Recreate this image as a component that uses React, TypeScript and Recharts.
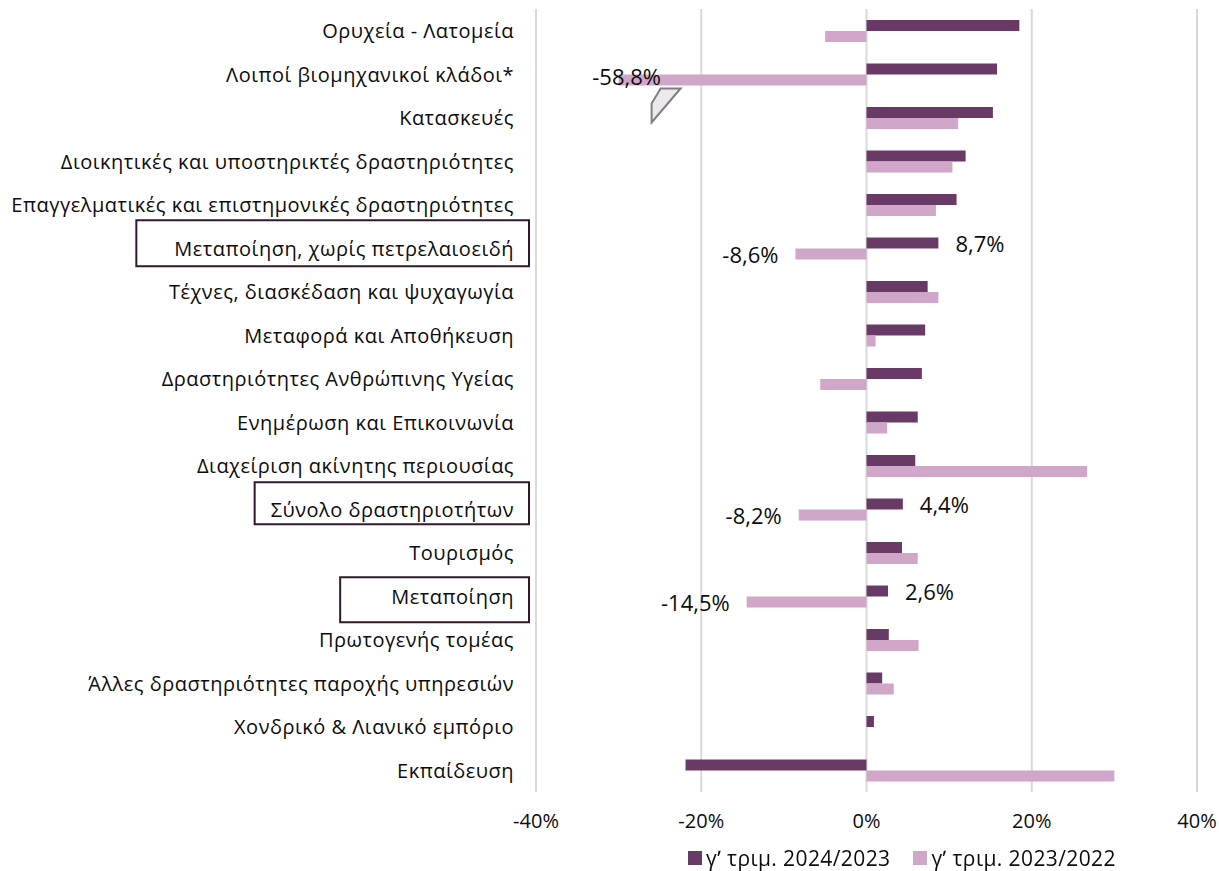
import { useLayoutEffect, useRef, useState } from "react";
import { Bar, BarChart, CartesianGrid, Legend, Rectangle, XAxis, YAxis } from "recharts";

const categories = [
  "Ορυχεία - Λατομεία",
  "Λοιποί βιομηχανικοί κλάδοι*",
  "Κατασκευές",
  "Διοικητικές και υποστηρικτές δραστηριότητες",
  "Επαγγελματικές και επιστημονικές δραστηριότητες",
  "Μεταποίηση, χωρίς πετρελαιοειδή",
  "Τέχνες, διασκέδαση και ψυχαγωγία",
  "Μεταφορά και Αποθήκευση",
  "Δραστηριότητες Ανθρώπινης Υγείας",
  "Ενημέρωση και Επικοινωνία",
  "Διαχείριση ακίνητης περιουσίας",
  "Σύνολο δραστηριοτήτων",
  "Τουρισμός",
  "Μεταποίηση",
  "Πρωτογενής τομέας",
  "Άλλες δραστηριότητες παροχής υπηρεσιών",
  "Χονδρικό & Λιανικό εμπόριο",
  "Εκπαίδευση",
];

// γʹ τριμ. 2024/2023
const q3_2024 = [18.5, 15.8, 15.3, 12.0, 10.9, 8.7, 7.4, 7.1, 6.7, 6.2, 5.9, 4.4, 4.3, 2.6, 2.7, 1.9, 0.9, -21.9];
// γʹ τριμ. 2023/2022
const q3_2023 = [-5.0, -58.8, 11.1, 10.4, 8.4, -8.6, 8.7, 1.1, -5.6, 2.5, 26.7, -8.2, 6.2, -14.5, 6.3, 3.3, 0, 30.0];

// rows that get a frame around the label and value labels on the bars
const highlighted = ["Μεταποίηση, χωρίς πετρελαιοειδή", "Σύνολο δραστηριοτήτων", "Μεταποίηση"];

const xTicks = [-40, -20, 0, 20, 40];
const seriesNames = ["γʹ τριμ. 2024/2023", "γʹ τριμ. 2023/2022"];

// bars below this value are cut off with a break marker
const AXIS_BREAK = -30;

const FONT = "'Open Sans', 'Noto Sans', sans-serif";
const DARK = "#6a3a66";
const LIGHT = "#d0a6c9";
const TEXT = "#0d0d0d";

// hand-drawn frames in the original are not all the same size
const frameStyle: Record<string, { padLeft: number; top: number; height: number }> = {
  "Μεταποίηση, χωρίς πετρελαιοειδή": { padLeft: 38, top: -28, height: 46 },
  "Σύνολο δραστηριοτήτων": { padLeft: 16, top: -27, height: 42 },
  "Μεταποίηση": { padLeft: 51, top: -19, height: 45 },
};

const rows = categories.map((name, i) => ({
  name,
  q24: q3_2024[i],
  q23: q3_2023[i],
  labeled: highlighted.includes(name),
}));

const fmt = (v: number) => `${v.toFixed(1).replace(".", ",")}%`;

function CategoryTick(props: any) {
  const { x, y, payload } = props;
  const ref = useRef<SVGTextElement>(null);
  const [w, setW] = useState(0);
  const frame = frameStyle[payload.value];
  useLayoutEffect(() => {
    if (ref.current) setW(ref.current.getBBox().width);
  }, [payload.value]);
  return (
    <g>
      {frame && w > 0 && (
        <rect
          x={x - w - frame.padLeft}
          y={y + frame.top}
          width={w + frame.padLeft + 15}
          height={frame.height}
          fill="none"
          stroke="#2e1a2c"
          strokeWidth={2}
        />
      )}
      <text
        ref={ref}
        x={x}
        y={y}
        textAnchor="end"
        dominantBaseline="central"
        fontSize={20}
        letterSpacing={0.5}
        fontFamily={FONT}
        fill={TEXT}
      >
        {payload.value}
      </text>
    </g>
  );
}

function makeShape(key: "q24" | "q23") {
  return (props: any) => {
    const { x, y, width, height, fill, payload } = props;
    const left = Math.min(x, x + width);
    const right = Math.max(x, x + width);
    const real: number = payload[key];
    const cut = real < AXIS_BREAK;
    let label = null;
    if (cut) {
      label = (
        <text x={left + 8} y={y + height / 2 - 4} textAnchor="middle" dominantBaseline="central" fontSize={22} fontFamily={FONT} fill={TEXT}>
          {fmt(real)}
        </text>
      );
    } else if (payload.labeled) {
      const pos = real >= 0;
      label = (
        <text
          x={pos ? right + 17 : left - 17}
          y={y + height / 2}
          textAnchor={pos ? "start" : "end"}
          dominantBaseline="central"
          fontSize={22}
          fontFamily={FONT}
          fill={TEXT}
        >
          {fmt(real)}
        </text>
      );
    }
    const b = y + height;
    return (
      <g>
        <Rectangle x={left} y={y} width={right - left} height={height} fill={fill} />
        {cut && (
          <polygon
            points={`${left + 42},${b + 3} ${left + 62},${b + 3} ${left + 33},${b + 37} ${left + 33},${b + 18}`}
            fill="#ece8ee"
            stroke="#7f7f7f"
            strokeWidth={2}
          />
        )}
        {label}
      </g>
    );
  };
}

function LegendContent() {
  const colors = [DARK, LIGHT];
  return (
    <div
      style={{
        display: "flex",
        gap: 23,
        fontFamily: FONT,
        fontSize: 21,
        letterSpacing: 0.4,
        color: TEXT,
        whiteSpace: "nowrap",
      }}
    >
      {seriesNames.map((s, i) => (
        <div key={s} style={{ display: "flex", alignItems: "center", gap: 4 }}>
          <span style={{ width: 14, height: 14, background: colors[i], display: "inline-block" }} />
          <span>{s}</span>
        </div>
      ))}
    </div>
  );
}

export default function App() {
  return (
    <div style={{ position: "fixed", left: 0, top: 0, width: 1219, height: 871, background: "#fff" }}>
      <BarChart
        width={1219}
        height={871}
        data={rows}
        layout="vertical"
        margin={{ top: 9, right: 22, left: 0, bottom: 0 }}
        barSize={11}
        barGap={0}
      >
        <CartesianGrid horizontal={false} stroke="#d9d9d9" strokeWidth={2} />
        <XAxis
          type="number"
          domain={[-40, 40]}
          ticks={xTicks}
          tickFormatter={(v: number) => `${v}%`}
          axisLine={false}
          tickLine={false}
          tickSize={0}
          tickMargin={22}
          height={79}
          tick={{ fontSize: 20, fill: TEXT, fontFamily: FONT }}
        />
        <YAxis
          type="category"
          dataKey="name"
          width={536}
          axisLine={false}
          tickLine={false}
          tickSize={0}
          tickMargin={22}
          interval={0}
          tick={<CategoryTick />}
        />
        <Legend
          verticalAlign="middle"
          align="center"
          wrapperStyle={{ top: 844, left: 688, width: 500 }}
          content={<LegendContent />}
        />
        <Bar
          dataKey="q24"
          name={seriesNames[0]}
          fill={DARK}
          isAnimationActive={false}
          shape={makeShape("q24")}
        />
        <Bar
          dataKey={(r: any) => Math.max(r.q23, AXIS_BREAK)}
          name={seriesNames[1]}
          fill={LIGHT}
          isAnimationActive={false}
          shape={makeShape("q23")}
        />
      </BarChart>
    </div>
  );
}
